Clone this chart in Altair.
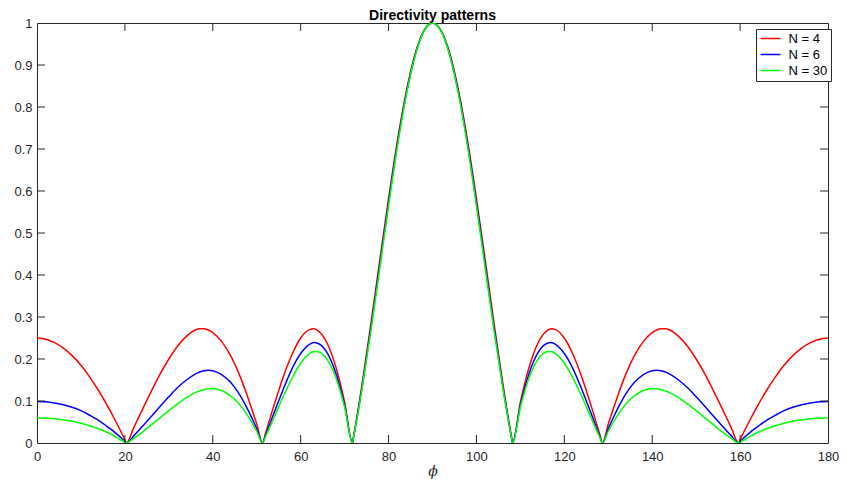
import altair as alt
import pandas as pd

# phi samples (degrees)
phi_left = [0, 2, 4, 6, 8, 10, 12, 14, 16, 18, 20, 20.36, 22, 24, 26, 28, 30, 32, 34, 36,
            37, 38, 39, 40, 42, 44, 46, 48, 50, 51.32, 52, 54, 56, 58, 60, 62, 63, 64,
            66, 68, 70, 71.79, 72, 74, 76, 78, 80, 82, 84, 86, 88, 89, 90]
phi_right = [91, 92, 94, 96, 98, 100, 102, 104, 106, 108, 108.21, 110, 112, 114, 116, 117,
             118, 120, 122, 124, 126, 128, 128.68, 130, 132, 134, 136, 138, 140, 141, 142,
             143, 144, 146, 148, 150, 152, 154, 156, 158, 159.64, 160, 162, 164, 166, 168,
             170, 172, 174, 176, 178, 180]
phi = phi_left + phi_right

n4 = [0.250, 0.247, 0.239, 0.226, 0.208, 0.185, 0.157, 0.125, 0.089, 0.050, 0.008, 0,
      0.036, 0.080, 0.123, 0.164, 0.200, 0.231, 0.254, 0.269,
      0.272, 0.272, 0.269, 0.263,
      0.242, 0.209, 0.164, 0.108, 0.045, 0,
      0.023, 0.092, 0.156, 0.210, 0.250, 0.270,
      0.272, 0.267,
      0.238, 0.181, 0.097, 0,
      0.012, 0.142, 0.285, 0.435, 0.582, 0.719, 0.835, 0.925, 0.981, 0.995, 1.000,
      0.995, 0.981, 0.925, 0.835, 0.719, 0.582, 0.435, 0.285, 0.142, 0.012, 0,
      0.097, 0.181, 0.238,
      0.267, 0.272, 0.270,
      0.250, 0.210, 0.156, 0.092, 0.023, 0,
      0.045, 0.108, 0.164, 0.209, 0.242,
      0.263, 0.269, 0.272, 0.272, 0.269,
      0.254, 0.231, 0.200, 0.164, 0.123, 0.080, 0.036, 0,
      0.008, 0.050, 0.089, 0.125, 0.157, 0.185, 0.208, 0.226, 0.239, 0.247, 0.250]

n6 = [0.099, 0.098, 0.095, 0.091, 0.085, 0.077, 0.066, 0.054, 0.039, 0.023, 0.004, 0,
      0.017, 0.040, 0.063, 0.087, 0.110, 0.132, 0.150, 0.164,
      0.169, 0.172, 0.173, 0.172,
      0.163, 0.145, 0.117, 0.079, 0.034, 0,
      0.018, 0.073, 0.127, 0.176, 0.213, 0.235,
      0.239, 0.237,
      0.215, 0.166, 0.090, 0,
      0.012, 0.135, 0.275, 0.424, 0.572, 0.711, 0.830, 0.922, 0.980, 0.995, 1.000,
      0.995, 0.980, 0.922, 0.830, 0.711, 0.572, 0.424, 0.275, 0.135, 0.012, 0,
      0.090, 0.166, 0.215,
      0.237, 0.239, 0.235,
      0.213, 0.176, 0.127, 0.073, 0.018, 0,
      0.034, 0.079, 0.117, 0.145, 0.163,
      0.172, 0.173, 0.172, 0.169, 0.164,
      0.150, 0.132, 0.110, 0.087, 0.063, 0.040, 0.017, 0,
      0.004, 0.023, 0.039, 0.054, 0.066, 0.077, 0.085, 0.091, 0.095, 0.098, 0.099]

n30 = [0.060, 0.059, 0.058, 0.055, 0.052, 0.047, 0.041, 0.034, 0.025, 0.014, 0.002, 0,
       0.011, 0.026, 0.043, 0.060, 0.077, 0.093, 0.108, 0.120,
       0.124, 0.127, 0.129, 0.130,
       0.125, 0.113, 0.093, 0.064, 0.028, 0,
       0.015, 0.062, 0.110, 0.154, 0.190, 0.213,
       0.218, 0.217,
       0.199, 0.156, 0.085, 0,
       0.011, 0.131, 0.268, 0.416, 0.564, 0.705, 0.826, 0.920, 0.980, 0.995, 1.000,
       0.995, 0.980, 0.920, 0.826, 0.705, 0.564, 0.416, 0.268, 0.131, 0.011, 0,
       0.085, 0.156, 0.199,
       0.217, 0.218, 0.213,
       0.190, 0.154, 0.110, 0.062, 0.015, 0,
       0.028, 0.064, 0.093, 0.113, 0.125,
       0.130, 0.129, 0.127, 0.124, 0.120,
       0.108, 0.093, 0.077, 0.060, 0.043, 0.026, 0.011, 0,
       0.002, 0.014, 0.025, 0.034, 0.041, 0.047, 0.052, 0.055, 0.058, 0.059, 0.060]

series_names = ["N = 4", "N = 6", "N = 30"]
series_colors = ["#ff0000", "#0000ff", "#00ff00"]
series_values = [n4, n6, n30]

x_ticks = [0, 20, 40, 60, 80, 100, 120, 140, 160, 180]
y_ticks = [0, 0.1, 0.2, 0.3, 0.4, 0.5, 0.6, 0.7, 0.8, 0.9, 1]

W, H = 791, 420
AX = "#262626"
FONT = "Liberation Sans"


def xenc():
    return alt.X("phi:Q", scale=alt.Scale(domain=[0, 180], nice=False, zero=False),
                 axis=alt.Axis(values=x_ticks, title="ϕ", titleFont="DejaVu Serif",
                               titleFontStyle="italic", titleFontWeight="normal",
                               titleFontSize=14, titleColor=AX, titlePadding=1,
                               labelFontSize=13, labelColor=AX,
                               labelPadding=7, labelFlush=False, labelOverlap=False,
                               domain=False, ticks=False, tickSize=0, grid=False))


def yenc():
    return alt.Y("v:Q", scale=alt.Scale(domain=[0, 1], nice=False),
                 axis=alt.Axis(values=y_ticks, format="~g", title=None,
                               labelFontSize=13, labelColor=AX, labelPadding=5,
                               labelFlush=False, labelOverlap=False,
                               domain=False, ticks=False, tickSize=0, grid=False))


color_scale = alt.Scale(domain=series_names, range=series_colors)
legend = alt.Legend(title=None, orient="none", legendX=719, legendY=6,
                    strokeColor=AX, fillColor="white", padding=3,
                    symbolType="M-2,0H2", symbolSize=100, symbolStrokeWidth=1.5,
                    symbolOffset=5, labelOffset=11.5,
                    labelFontSize=13, labelColor="black", labelFont=FONT,
                    rowPadding=2)

layers = []
for name, vals in zip(series_names, series_values):
    df = pd.DataFrame({"phi": phi, "v": vals, "series": name})
    layers.append(
        alt.Chart(df).mark_line(strokeWidth=1.5, clip=True, interpolate="monotone").encode(
            x=xenc(), y=yenc(),
            color=alt.Color("series:N", scale=color_scale, legend=legend),
        )
    )

xt = pd.DataFrame({"phi": x_ticks[1:-1]})
yt = pd.DataFrame({"v": y_ticks[1:-1]})
tick_style = dict(color=AX, strokeWidth=1)
layers += [
    alt.Chart(xt).mark_rule(**tick_style).encode(x=xenc(), y=alt.value(H), y2=alt.value(H - 8)),
    alt.Chart(xt).mark_rule(**tick_style).encode(x=xenc(), y=alt.value(0), y2=alt.value(8)),
    alt.Chart(yt).mark_rule(**tick_style).encode(y=yenc(), x=alt.value(0), x2=alt.value(8)),
    alt.Chart(yt).mark_rule(**tick_style).encode(y=yenc(), x=alt.value(W), x2=alt.value(W - 8)),
]

chart = alt.layer(*layers).properties(
    width=W, height=H,
    title=alt.TitleParams("Directivity patterns", fontSize=14, fontWeight="bold",
                          color="black", offset=4, dy=10, anchor="middle", frame="group",
                          font=FONT),
    autosize=alt.AutoSizeParams(type="none"),
    padding={"left": 29, "top": 15, "right": 11, "bottom": 37},
).configure(font=FONT).configure_view(stroke=AX, strokeWidth=1)

chart.save("out.html", embed_options={"renderer": "svg", "actions": False})
